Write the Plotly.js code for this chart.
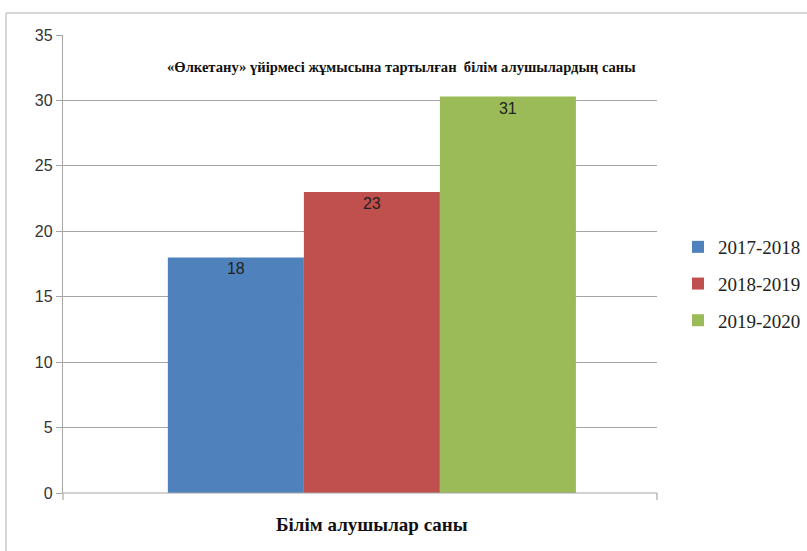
<!DOCTYPE html>
<html>
<head>
<meta charset="utf-8">
<script src="https://cdn.plot.ly/plotly-3.0.1.min.js"></script>
<style>html,body{margin:0;padding:0;background:#fff;}#chart{width:807px;height:551px;}</style>
</head>
<body>
<div id="chart"></div>
<script>
const category = ["Білім алушылар саны"];
const seriesNames = ["2017-2018", "2018-2019", "2019-2020"];
const seriesValues = [18, 23, 30.3];
const seriesLabels = ["18", "23", "31"];
const seriesColors = ["#4F81BD", "#C0504D", "#9BBB59"];
const yTicks = [0, 5, 10, 15, 20, 25, 30, 35];

const traces = seriesNames.map((n, i) => ({
  type: "bar",
  name: n,
  x: category,
  y: [seriesValues[i]],
  text: [seriesLabels[i]],
  textposition: "inside",
  insidetextanchor: "end",
  textangle: 0,
  textfont: {family: "Liberation Sans, sans-serif", size: 16, color: "#222"},
  marker: {color: seriesColors[i], line: {width: 0}},
  legendgroup: "g" + i,
  hoverinfo: "none"
}));

const L = 63, R = 657, T = 35, B = 493;
const px = v => (v - L) / (R - L);
const py = v => (B - v) / (B - T);

const layout = {
  width: 807, height: 551,
  margin: {l: L, r: 807 - R, t: T, b: 551 - B},
  paper_bgcolor: "#fff", plot_bgcolor: "#fff",
  barmode: "group", bargap: 0.313, bargroupgap: 0,
  showlegend: true,
  legend: {
    xref: "container", yref: "container",
    x: 678 / 807, y: 1 - 228 / 551, xanchor: "left", yanchor: "top",
    font: {family: "Liberation Serif, serif", size: 19, color: "#222"},
    traceorder: "grouped", tracegroupgap: 9,
    itemwidth: 30, bgcolor: "rgba(0,0,0,0)"
  },
  xaxis: {
    showticklabels: false, showgrid: false, zeroline: false,
    showline: false, ticks: "", range: [-0.52, 0.48]
  },
  yaxis: {
    range: [0, 35], tickvals: yTicks, ticktext: yTicks.map(String),
    showgrid: true, gridcolor: "#a6a6a6", gridwidth: 1.2,
    zeroline: false, showline: true, linecolor: "#a6a6a6", linewidth: 1.2,
    ticks: "outside", ticklen: 6, tickcolor: "#a6a6a6",
    tickfont: {family: "Liberation Sans, sans-serif", size: 16, color: "#333"}
  },
  annotations: [{
    xref: "paper", yref: "paper", x: px(401), y: py(67),
    text: "<b>«Өлкетану» үйірмесі жұмысына тартылған  білім алушылардың саны</b>",
    showarrow: false, xanchor: "center", yanchor: "middle",
    font: {family: "Liberation Serif, serif", size: 14.6, color: "#111"}
  }, {
    xref: "paper", yref: "paper", x: px(372), y: py(524),
    text: "<b>Білім алушылар саны</b>",
    showarrow: false, xanchor: "center", yanchor: "middle",
    font: {family: "Liberation Serif, serif", size: 19, color: "#111"}
  }],
  shapes: [
    {type: "line", xref: "paper", yref: "paper", x0: 0, x1: 1, y0: 0, y1: 0, line: {color: "#a6a6a6", width: 1.2}},
    {type: "line", xref: "paper", yref: "paper", x0: 1, x1: 1, y0: 0, y1: py(500), line: {color: "#a6a6a6", width: 1.2}},
    {type: "line", xref: "paper", yref: "paper", x0: 0, x1: 0, y0: 0, y1: py(500), line: {color: "#a6a6a6", width: 1.2}},
    {type: "line", xref: "paper", yref: "paper", x0: px(6), x1: px(807), y0: py(13), y1: py(13), line: {color: "#c8c8c8", width: 1.5}},
    {type: "line", xref: "paper", yref: "paper", x0: px(6), x1: px(6), y0: py(13), y1: py(551), line: {color: "#c8c8c8", width: 1.5}}
  ]
};

Plotly.newPlot("chart", traces, layout, {displayModeBar: false, staticPlot: true});
</script>
</body>
</html>
